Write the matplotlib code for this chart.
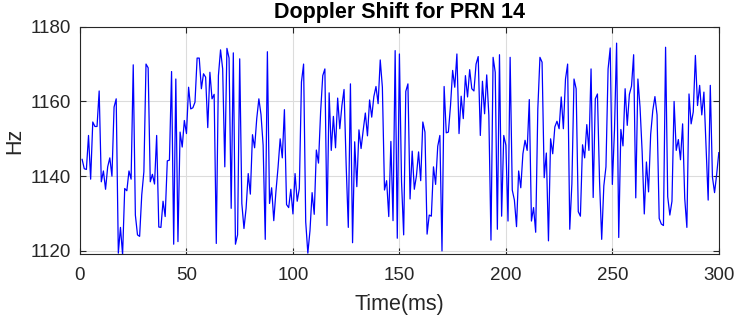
import matplotlib
matplotlib.use("Agg")
import matplotlib.pyplot as plt


# 데이터 (1 ms 간격, PRN 14 도플러)

TIME_MS = list(range(1, 301))

DOPPLER_HZ = [
    1144.5, 1142.0, 1141.8, 1150.9, 1139.2, 1154.5, 1153.3, 1153.3, 1162.8, 1138.5,
    1141.4, 1136.5, 1142.5, 1144.9, 1140.0, 1158.5, 1160.7, 1119.4, 1126.3, 1119.0,
    1136.7, 1136.1, 1141.4, 1139.2, 1169.8, 1129.6, 1124.3, 1123.9, 1135.0, 1141.2,
    1170.0, 1169.0, 1138.5, 1140.5, 1137.9, 1150.9, 1126.4, 1126.3, 1133.3, 1129.2,
    1144.1, 1144.3, 1168.0, 1121.8, 1166.0, 1122.5, 1151.8, 1147.8, 1154.9, 1151.4,
    1163.8, 1158.0, 1158.3, 1159.8, 1171.6, 1171.6, 1163.4, 1167.4, 1166.5, 1153.0,
    1167.8, 1160.7, 1161.9, 1122.0, 1166.9, 1173.8, 1168.7, 1142.5, 1174.2, 1171.6,
    1131.4, 1173.0, 1121.8, 1124.3, 1171.4, 1132.7, 1126.0, 1131.4, 1140.7, 1135.2,
    1151.1, 1147.6, 1155.4, 1160.7, 1156.5, 1148.3, 1123.1, 1173.3, 1132.7, 1136.9,
    1128.1, 1135.8, 1142.3, 1150.0, 1144.9, 1157.8, 1132.4, 1131.6, 1136.5, 1129.9,
    1140.7, 1133.3, 1136.7, 1165.2, 1170.0, 1127.8, 1119.4, 1125.4, 1135.6, 1129.8,
    1147.0, 1143.5, 1157.2, 1166.9, 1168.7, 1126.8, 1162.3, 1146.9, 1156.0, 1147.6,
    1160.9, 1152.7, 1158.9, 1163.2, 1142.9, 1126.3, 1164.7, 1122.2, 1149.2, 1137.2,
    1152.4, 1147.4, 1152.3, 1156.9, 1150.8, 1160.4, 1155.8, 1161.3, 1164.0, 1159.4,
    1171.1, 1163.8, 1136.3, 1138.8, 1129.2, 1149.3, 1128.1, 1173.6, 1123.4, 1172.7,
    1138.5, 1124.3, 1162.7, 1164.7, 1133.9, 1146.7, 1136.5, 1140.1, 1146.5, 1138.8,
    1154.5, 1151.8, 1124.5, 1129.6, 1129.3, 1142.5, 1137.8, 1148.0, 1150.9, 1120.0,
    1164.0, 1151.6, 1151.8, 1158.9, 1168.3, 1163.8, 1172.7, 1151.4, 1161.4, 1155.4,
    1166.9, 1161.2, 1168.5, 1163.4, 1162.8, 1170.0, 1172.0, 1150.9, 1165.4, 1156.7,
    1167.1, 1156.3, 1122.9, 1171.8, 1167.8, 1125.8, 1172.5, 1129.3, 1150.9, 1148.3,
    1128.0, 1171.8, 1136.3, 1133.6, 1126.5, 1141.4, 1136.9, 1146.0, 1149.6, 1146.9,
    1160.5, 1128.0, 1131.6, 1125.0, 1158.0, 1171.8, 1170.5, 1139.6, 1146.2, 1122.7,
    1150.0, 1146.0, 1153.2, 1154.7, 1152.7, 1161.2, 1152.7, 1166.0, 1170.0, 1125.8,
    1138.0, 1166.0, 1163.4, 1130.5, 1129.3, 1148.4, 1144.9, 1153.8, 1146.9, 1168.7,
    1134.3, 1160.7, 1162.0, 1138.5, 1123.1, 1137.4, 1142.5, 1168.7, 1174.3, 1137.8,
    1152.3, 1175.6, 1123.6, 1152.5, 1148.1, 1163.4, 1153.6, 1161.9, 1164.1, 1172.5,
    1134.2, 1166.0, 1158.5, 1146.5, 1129.9, 1143.8, 1135.8, 1151.2, 1157.6, 1161.3,
    1156.4, 1128.7, 1127.2, 1126.8, 1174.5, 1134.5, 1129.6, 1133.3, 1160.0, 1146.9,
    1149.8, 1144.4, 1154.0, 1134.0, 1126.3, 1162.0, 1154.0, 1157.2, 1172.3, 1158.9,
    1164.3, 1156.4, 1162.5, 1148.3, 1133.6, 1164.3, 1139.8, 1135.6, 1140.5, 1146.3,
]

X_TICKS = [0, 50, 100, 150, 200, 250, 300]
Y_TICKS = [1120, 1140, 1160, 1180]


# 그래프

plt.rcParams["font.family"] = ["Liberation Sans", "DejaVu Sans"]

fig = plt.figure(figsize=(7.38, 3.2), dpi=100)
ax = fig.add_axes([0.1084, 0.2053, 0.8656, 0.7113])

ax.plot(TIME_MS, DOPPLER_HZ, color="#0000ff", linewidth=0.9)

ax.set_xlim(0, 300)
ax.set_ylim(1119.1, 1180)
ax.set_xticks(X_TICKS)
ax.set_yticks(Y_TICKS)

ax.grid(True, color="#dcdcdc", linewidth=0.8)
ax.set_axisbelow(True)

ax.tick_params(direction="in", top=True, right=True, length=4, width=0.8,
               colors="#262626", labelsize=13.5)
ax.tick_params(axis="x", pad=9.5)
ax.tick_params(axis="y", pad=6.5)
for spine in ax.spines.values():
    spine.set_color("#262626")
    spine.set_linewidth(0.8)

ax.set_title("Doppler Shift for PRN 14", fontsize=15.5, fontweight="bold", pad=6)
ax.set_xlabel("Time(ms)", fontsize=15.5, color="#262626", labelpad=7)
ax.set_ylabel("Hz", fontsize=15.5, color="#262626", labelpad=4)

fig.savefig("out.png", dpi=100)
